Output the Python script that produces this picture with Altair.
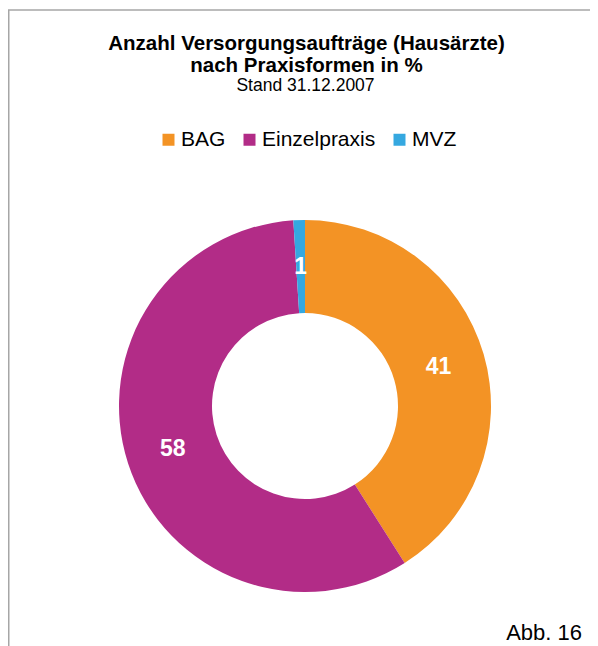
import altair as alt
import pandas as pd

CATEGORIES = ["BAG", "Einzelpraxis", "MVZ"]
VALUES = [41, 58, 1]
LABELS = ["41", "58", "1"]
COLORS = ["#F39325", "#B22C87", "#35A8E0"]
TITLE_LINES = ["Anzahl Versorgungsaufträge (Hausärzte)", "nach Praxisformen in %"]
SUBTITLE = "Stand 31.12.2007"
FOOTNOTE = "Abb. 16"

FONT = "Liberation Sans"
W, H = 582, 638
CX, CY = 297, 398

df = pd.DataFrame({
    "Praxisform": CATEGORIES,
    "Anteil": VALUES,
    "Label": LABELS,
    "Reihenfolge": list(range(len(CATEGORIES))),
})

base = alt.Chart(df).encode(
    theta=alt.Theta("Anteil:Q", stack=True),
    order=alt.Order("Reihenfolge:Q"),
)

arcs = base.mark_arc(outerRadius=186, innerRadius=93, x=CX, y=CY).encode(
    color=alt.Color(
        "Praxisform:N",
        sort=CATEGORIES,
        scale=alt.Scale(domain=CATEGORIES, range=COLORS),
        legend=alt.Legend(
            title=None, orient="none", direction="horizontal",
            legendX=150, legendY=121, symbolType="square", symbolSize=144,
            symbolStrokeWidth=0, labelFontSize=21, labelFont=FONT,
            labelColor="#000000", labelOffset=2, columnPadding=13, padding=0,
        ),
    )
)

labels = base.mark_text(
    radius=139, x=CX, y=CY, font=FONT, fontSize=23, fontWeight="bold",
    color="white", align="center", baseline="middle",
).encode(text="Label:N")


def text_layer(s, x, y, size, weight="normal", align="center"):
    return alt.Chart(pd.DataFrame({"t": [s]})).mark_text(
        font=FONT, fontSize=size, fontWeight=weight, align=align,
        baseline="alphabetic", color="#000000",
    ).encode(text="t:N", x=alt.value(x), y=alt.value(y))


t1 = text_layer(TITLE_LINES[0], 298.5, 42, 20.5, "bold")
t2 = text_layer(TITLE_LINES[1], 298.5, 64, 20.5, "bold")
t3 = text_layer(SUBTITLE, 297.5, 82.5, 17.5)
foot = text_layer(FOOTNOTE, 574, 632, 22, align="right")

border_df = pd.DataFrame({"k": [0]})
left = alt.Chart(border_df).mark_rule(color="#A6A6A6", strokeWidth=1.5).encode(
    x=alt.value(0.75), y=alt.value(2), y2=alt.value(H)
)
top = alt.Chart(border_df).mark_rule(color="#A6A6A6", strokeWidth=1.5).encode(
    y=alt.value(2), x=alt.value(0), x2=alt.value(W)
)

chart = alt.layer(left, top, arcs, labels, t1, t2, t3, foot).properties(
    width=W, height=H, autosize="none", padding=0
).configure_view(stroke=None)

chart.save("out.html", embed_options={"renderer": "svg", "actions": False})
